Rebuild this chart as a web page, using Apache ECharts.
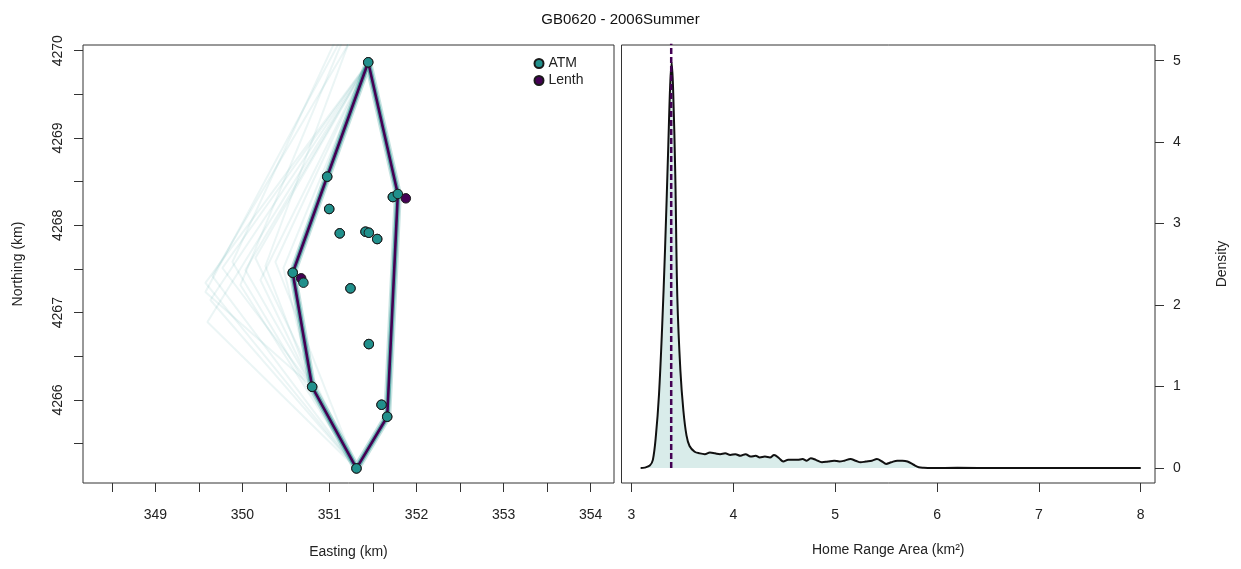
<!DOCTYPE html>
<html><head><meta charset="utf-8">
<script src="https://cdn.jsdelivr.net/npm/echarts@6/dist/echarts.min.js"></script>
<style>html,body{margin:0;padding:0;background:#fff}#c{width:1241px;height:569px}</style>
</head><body><div id="c"></div>
<script>
const chartTitle = 'GB0620 - 2006Summer';
const seriesNames = ['ATM', 'Lenth'];

// ATM location estimates (km)
const atmEasting  = [351.445, 350.974, 350.997, 351.118, 351.414, 351.452, 351.548, 351.728, 351.785, 350.578, 350.701, 351.241, 351.452, 350.801, 351.598, 351.663, 351.310];
const atmNorthing = [4269.867, 4268.557, 4268.187, 4267.908, 4267.927, 4267.915, 4267.843, 4268.324, 4268.359, 4267.457, 4267.343, 4267.278, 4266.640, 4266.151, 4265.945, 4265.808, 4265.216];
// Lenth location estimates (km)
const lenthEasting  = [351.445, 350.974, 350.997, 351.118, 351.414, 351.452, 351.548, 351.728, 351.877, 350.578, 350.675, 351.241, 351.452, 350.801, 351.598, 351.663, 351.310];
const lenthNorthing = [4269.867, 4268.557, 4268.187, 4267.908, 4267.927, 4267.915, 4267.843, 4268.324, 4268.309, 4267.457, 4267.393, 4267.278, 4266.640, 4266.151, 4265.945, 4265.808, 4265.216];

// convex hull vertices (km)
const hullEasting  = [351.445, 351.785, 351.663, 351.310, 350.801, 350.578, 351.445];
const hullNorthing = [4269.867, 4268.359, 4265.808, 4265.216, 4266.151, 4267.457, 4269.867];

// faint simulated hulls: top vertex, left vertex, bottom vertex
const fanTopEasting     = [351.445, 351.250, 351.445, 351.350, 351.445, 351.200, 351.445, 351.445, 351.300, 351.445, 351.445, 351.445, 351.250, 351.445];
const fanTopNorthing    = [4269.867, 4270.350, 4269.867, 4270.300, 4269.867, 4270.400, 4269.867, 4269.867, 4270.300, 4269.867, 4269.867, 4269.867, 4270.350, 4269.867];
const fanLeftEasting    = [349.575, 349.575, 349.598, 349.655, 349.770, 349.885, 350.034, 350.149, 350.264, 350.379, 350.471, 349.632, 349.977, 350.207];
const fanLeftNorthing   = [4267.340, 4267.237, 4266.893, 4267.419, 4267.511, 4267.580, 4267.488, 4267.626, 4267.534, 4267.580, 4267.511, 4267.145, 4267.317, 4267.374];
const fanBottomEasting  = [351.310, 350.801, 351.310, 351.310, 350.801, 351.310, 350.801, 351.310, 350.801, 351.310, 350.801, 351.310, 351.310, 350.801];
const fanBottomNorthing = [4265.216, 4266.151, 4265.216, 4265.216, 4266.151, 4265.216, 4266.151, 4265.216, 4266.151, 4265.216, 4266.151, 4265.216, 4265.216, 4266.151];

const eastingTicks  = [348.5, 349, 349.5, 350, 350.5, 351, 351.5, 352, 352.5, 353, 353.5, 354];
const eastingLabels = [349, 350, 351, 352, 353, 354];
const northingTicks  = [4265.5, 4266, 4266.5, 4267, 4267.5, 4268, 4268.5, 4269, 4269.5, 4270];
const northingLabels = [4266, 4267, 4268, 4269, 4270];

// density of home range area (km^2)
const areaValues = [3.09, 3.13, 3.18, 3.21, 3.24, 3.27, 3.30, 3.33, 3.36, 3.38, 3.395, 3.41, 3.43, 3.45, 3.48, 3.51, 3.54, 3.57, 3.62, 3.67,
  3.72, 3.77, 3.82, 3.87, 3.92, 3.97, 4.02, 4.07, 4.12, 4.17, 4.22, 4.26, 4.31, 4.36, 4.40, 4.45, 4.49, 4.54, 4.58, 4.63, 4.68, 4.72, 4.76,
  4.81, 4.87, 4.93, 4.99, 5.04, 5.09, 5.15, 5.20, 5.25, 5.30, 5.36, 5.41, 5.46, 5.50, 5.55, 5.61, 5.66, 5.71, 5.77, 5.82, 5.87, 5.95,
  6.2, 6.6, 7.0, 7.5, 8.0];
const densityValues = [0, 0.005, 0.03, 0.1, 0.4, 0.9, 1.7, 2.7, 3.9, 4.7, 4.98, 4.6, 3.6, 2.1, 1.2, 0.7, 0.4, 0.27, 0.2, 0.18,
  0.17, 0.19, 0.18, 0.17, 0.18, 0.16, 0.17, 0.15, 0.17, 0.14, 0.15, 0.13, 0.14, 0.13, 0.16, 0.12, 0.08, 0.10, 0.10, 0.10, 0.11, 0.09, 0.12,
  0.10, 0.07, 0.08, 0.09, 0.08, 0.09, 0.11, 0.09, 0.07, 0.08, 0.09, 0.11, 0.08, 0.05, 0.07, 0.09, 0.09, 0.08, 0.04, 0.01, 0.003, 0,
  0.002, 0, 0.001, 0, 0];
const lenthArea = 3.39;
const areaTicks = [3, 4, 5, 6, 7, 8];
const densityTicks = [0, 1, 2, 3, 4, 5];

const TEAL = '#21908C', PURPLE = '#440154', TXT = '#222', AX = '#333';
const FONT = '"Liberation Sans", Arial, Helvetica, sans-serif';

const zip = (a, b) => a.map((v, i) => [v, b[i]]);

const series = [];
for (let i = 0; i < fanLeftEasting.length; i++) {
  series.push({
    type: 'line', xAxisIndex: 0, yAxisIndex: 0, silent: true, showSymbol: false, z: 1,
    data: [[fanTopEasting[i], fanTopNorthing[i]], [fanLeftEasting[i], fanLeftNorthing[i]], [fanBottomEasting[i], fanBottomNorthing[i]]],
    lineStyle: { color: TEAL, width: 2, opacity: 0.09 }
  });
}
series.push({
  type: 'line', xAxisIndex: 0, yAxisIndex: 0, silent: true, showSymbol: false, z: 2,
  data: zip(hullEasting, hullNorthing), lineStyle: { color: TEAL, width: 8, opacity: 0.25 }
});
series.push({
  type: 'line', xAxisIndex: 0, yAxisIndex: 0, silent: true, showSymbol: false, z: 2,
  data: zip(hullEasting, hullNorthing), lineStyle: { color: TEAL, width: 5, opacity: 0.6 }
});
series.push({
  type: 'line', xAxisIndex: 0, yAxisIndex: 0, silent: true, showSymbol: false, z: 3,
  data: zip(hullEasting, hullNorthing), lineStyle: { color: PURPLE, width: 2.6 }
});
series.push({
  name: 'Lenth', type: 'scatter', xAxisIndex: 0, yAxisIndex: 0, z: 4, symbolSize: 9.5,
  data: zip(lenthEasting, lenthNorthing),
  itemStyle: { color: PURPLE, borderColor: '#1a1a1a', borderWidth: 1, opacity: 1 }
});
series.push({
  name: 'ATM', type: 'scatter', xAxisIndex: 0, yAxisIndex: 0, z: 5, symbolSize: 9.5,
  data: zip(atmEasting, atmNorthing),
  itemStyle: { color: TEAL, borderColor: '#1a1a1a', borderWidth: 1, opacity: 1 }
});
series.push({
  type: 'line', xAxisIndex: 1, yAxisIndex: 1, silent: true, showSymbol: false, smooth: 0.35, z: 2,
  data: zip(areaValues, densityValues),
  lineStyle: { color: '#111', width: 2 },
  areaStyle: { color: '#d9ecea', opacity: 1 }
});
series.push({
  type: 'line', xAxisIndex: 1, yAxisIndex: 1, silent: true, showSymbol: false, z: 4,
  data: [[lenthArea, 0], [lenthArea, 5.3]],
  lineStyle: { color: PURPLE, width: 2.5, type: [6, 3] }
});

const tickStyle = { show: true, length: 9, lineStyle: { color: AX, width: 1 } };
const labelStyle = { fontSize: 14, color: TXT, fontFamily: FONT, formatter: v => String(v) };
const nameStyle = { fontSize: 14, color: TXT, fontFamily: FONT };

const option = {
  animation: false,
  backgroundColor: '#fff',
  textStyle: { fontFamily: FONT },
  title: { text: chartTitle, left: 'center', top: 7, textStyle: { fontSize: 15, fontWeight: 'normal', color: '#111', fontFamily: FONT } },
  legend: {
    data: seriesNames, orient: 'vertical', left: 533.5, top: 56.5, padding: 0,
    itemWidth: 9, itemHeight: 9, itemGap: 3, icon: 'circle',
    itemStyle: { opacity: 1 },
    textStyle: { fontSize: 14, color: TXT, fontFamily: FONT }
  },
  grid: [
    { left: 83, top: 45, width: 531, height: 438, show: true, borderColor: AX, borderWidth: 1, backgroundColor: 'transparent', containLabel: false },
    { left: 621.5, top: 45, width: 533.5, height: 438, show: true, borderColor: AX, borderWidth: 1, backgroundColor: 'transparent', containLabel: false }
  ],
  xAxis: [
    { type: 'value', gridIndex: 0, min: 348.169, max: 354.268,
      axisLine: { show: false, onZero: false }, splitLine: { show: false },
      axisTick: Object.assign({ customValues: eastingTicks }, tickStyle),
      axisLabel: Object.assign({ customValues: eastingLabels, margin: 25 }, labelStyle),
      name: 'Easting (km)', nameLocation: 'middle', nameGap: 62, nameTextStyle: nameStyle },
    { type: 'value', gridIndex: 1, min: 2.902, max: 8.14,
      axisLine: { show: false, onZero: false }, splitLine: { show: false },
      axisTick: Object.assign({ customValues: areaTicks }, tickStyle),
      axisLabel: Object.assign({ customValues: areaTicks, margin: 25 }, labelStyle),
      name: 'Home Range Area (km²)', nameLocation: 'middle', nameGap: 60, nameTextStyle: nameStyle }
  ],
  yAxis: [
    { type: 'value', gridIndex: 0, min: 4265.049, max: 4270.065,
      axisLine: { show: false, onZero: false }, splitLine: { show: false },
      axisTick: Object.assign({ customValues: northingTicks }, tickStyle),
      axisLabel: Object.assign({ customValues: northingLabels, margin: 18, rotate: 90 }, labelStyle),
      name: 'Northing (km)', nameLocation: 'middle', nameGap: 58, nameRotate: 90, nameTextStyle: nameStyle },
    { type: 'value', gridIndex: 1, position: 'right', min: -0.184, max: 5.193,
      axisLine: { show: false, onZero: false }, splitLine: { show: false },
      axisTick: Object.assign({ customValues: densityTicks }, tickStyle),
      axisLabel: Object.assign({ customValues: densityTicks, margin: 18 }, labelStyle),
      name: 'Density', nameLocation: 'middle', nameGap: 60, nameRotate: 90, nameTextStyle: nameStyle }
  ],
  series: series
};

const chart = echarts.init(document.getElementById('c'), null, { renderer: 'canvas' });
chart.setOption(option);
</script>
</body></html>
